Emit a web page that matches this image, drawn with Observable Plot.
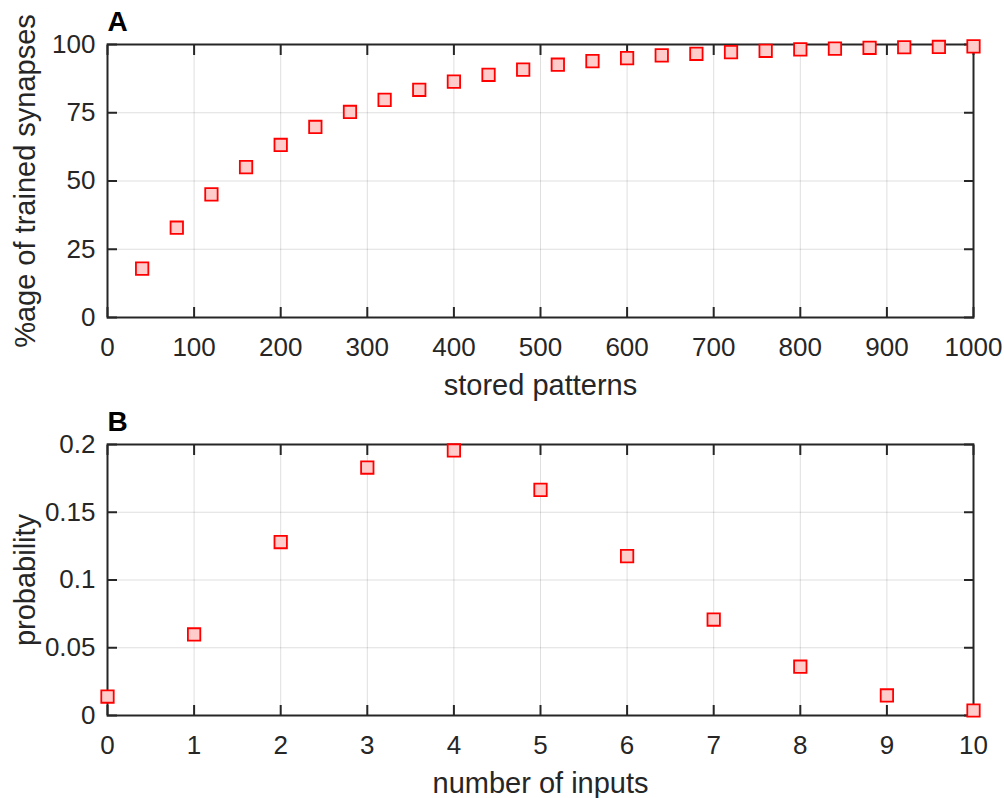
<!DOCTYPE html>
<html>
<head>
<meta charset="utf-8">
<script src="https://cdn.jsdelivr.net/npm/d3@7"></script>
<script src="https://cdn.jsdelivr.net/npm/@observablehq/plot@0.6"></script>
<style>
  body { margin: 0; background: #fff; }
  svg { display: block; }
</style>
</head>
<body>
<div id="chart"></div>
<script>
// Panel A: % of trained synapses vs stored patterns
const storedPatterns = [40, 80, 120, 160, 200, 240, 280, 320, 360, 400, 440, 480, 520, 560, 600, 640, 680, 720, 760, 800, 840, 880, 920, 960, 1000];
const trainedPercent = [17.9, 32.9, 45.1, 55.1, 63.2, 69.8, 75.3, 79.7, 83.4, 86.4, 88.9, 90.8, 92.6, 93.9, 95.0, 96.0, 96.6, 97.2, 97.7, 98.2, 98.5, 98.8, 99.0, 99.1, 99.3];
const xTicksA = [0, 100, 200, 300, 400, 500, 600, 700, 800, 900, 1000];
const yTicksA = [0, 25, 50, 75, 100];

// Panel B: probability vs number of inputs
const numInputs = [0, 1, 2, 3, 4, 5, 6, 7, 8, 9, 10];
const probability = [0.014, 0.0598, 0.128, 0.183, 0.1956, 0.1665, 0.1176, 0.0708, 0.036, 0.0148, 0.0037];
const xTicksB = [0, 1, 2, 3, 4, 5, 6, 7, 8, 9, 10];
const yTicksB = [0, 0.05, 0.1, 0.15, 0.2];

const FONT = "'Liberation Sans', Arial, Helvetica, sans-serif";
const INK = "#262626";

function panel({xs, ys, xDomain, yDomain, xTicks, yTicks, xLabel, yLabel, title, height, frameH}) {
  const rows = xs.map((x, i) => ({x, y: ys[i]}));
  const fmt = d => String(d);
  const tickStyle = {stroke: INK, strokeWidth: 2, tickSize: -10, tickFormat: () => "", label: null};
  return Plot.plot({
    width: 1004,
    height,
    marginLeft: 107,
    marginRight: 31,
    marginTop: 44,
    marginBottom: height - 44 - frameH,
    x: {domain: xDomain},
    y: {domain: yDomain},
    style: {fontFamily: FONT, color: INK, background: "#fff", overflow: "visible"},
    marks: [
      Plot.gridX(xTicks, {stroke: INK, strokeOpacity: 0.15, strokeWidth: 1}),
      Plot.gridY(yTicks, {stroke: INK, strokeOpacity: 0.15, strokeWidth: 1}),
      Plot.frame({stroke: INK, strokeWidth: 2}),
      Plot.axisX(xTicks, {anchor: "bottom", ...tickStyle}),
      Plot.axisX(xTicks, {anchor: "top", ...tickStyle}),
      Plot.axisY(yTicks, {anchor: "left", ...tickStyle}),
      Plot.axisY(yTicks, {anchor: "right", ...tickStyle}),
      Plot.axisX(xTicks, {anchor: "bottom", tickSize: 0, tickPadding: 20, fontSize: 26, tickFormat: fmt, label: null, fill: INK}),
      Plot.axisY(yTicks, {anchor: "left", tickSize: 0, tickPadding: 12, fontSize: 26, tickFormat: fmt, label: null, fill: INK}),
      Plot.text([xLabel], {frameAnchor: "bottom", dy: 77, lineAnchor: "bottom", fontSize: 29, fill: INK}),
      Plot.text([yLabel], {frameAnchor: "left", textAnchor: "middle", dx: -93.5, rotate: -90, lineAnchor: "top", fontSize: 29, fill: INK}),
      Plot.text([title], {frameAnchor: "top-left", textAnchor: "start", lineAnchor: "bottom", dy: -13.3, fontSize: 28, fontWeight: "bold", fill: "#000"}),
      Plot.dot(rows, {x: "x", y: "y", symbol: "square", r: 7, stroke: "#ff0000", fill: "#ffcccc", strokeWidth: 1.8})
    ]
  });
}

const chart = document.getElementById("chart");
chart.append(panel({
  xs: storedPatterns, ys: trainedPercent,
  xDomain: [0, 1000], yDomain: [0, 100],
  xTicks: xTicksA, yTicks: yTicksA,
  xLabel: "stored patterns", yLabel: "%age of trained synapses", title: "A",
  height: 400, frameH: 273
}));
chart.append(panel({
  xs: numInputs, ys: probability,
  xDomain: [0, 10], yDomain: [0, 0.2],
  xTicks: xTicksB, yTicks: yTicksB,
  xLabel: "number of inputs", yLabel: "probability", title: "B",
  height: 398, frameH: 271
}));
</script>
</body>
</html>
